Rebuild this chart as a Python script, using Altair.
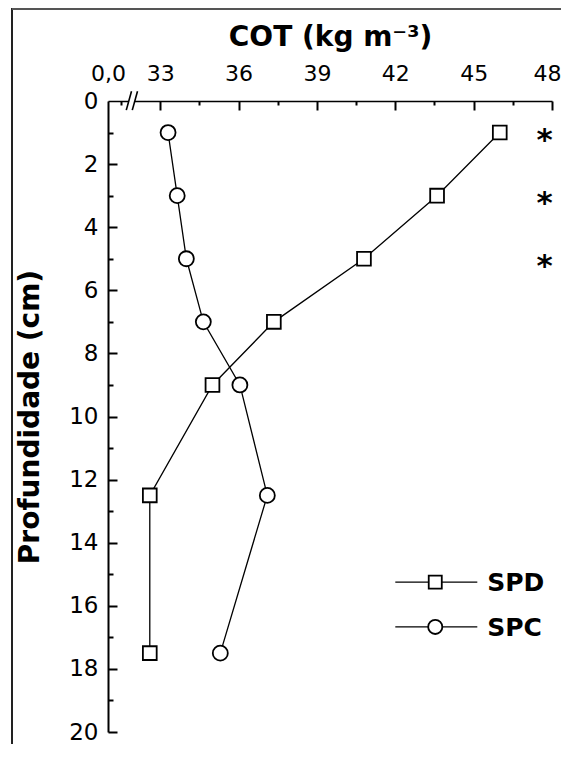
import altair as alt
import pandas as pd

# ---- data ----
depth = [1, 3, 5, 7, 9, 12.5, 17.5]
spd = [46.0, 43.6, 40.8, 37.35, 35.0, 32.6, 32.6]
spc = [33.3, 33.65, 34.0, 34.65, 36.05, 37.1, 35.3]
star_depth = [1, 3, 5]
star_x = 47.72

x_major = [31, 33, 36, 39, 42, 45, 48]
x_ticks = [31.5, 33, 34.5, 36, 37.5, 39, 40.5, 42, 43.5, 45, 46.5, 48]
y_major = [0, 2, 4, 6, 8, 10, 12, 14, 16, 18, 20]
y_ticks = list(range(1, 21))

legend_names = ["SPD", "SPC"]
legend_shapes = ["square", "circle"]
legend_depth = [15.25, 16.67]
legend_line_x = (42.0, 45.14)
legend_mark_x = 43.53
legend_text_x = 45.52

# axis break marks (in data units)
brk_gap = (31.80, 32.03)
brk_slashes = [(31.70, 31.90), (31.93, 32.13)]
brk_y = (0.29, -0.31)

W, H = 444, 631
FONT = "DejaVu Sans"

df = pd.DataFrame({
    "depth": depth * 2,
    "cot": spd + spc,
    "serie": ["SPD"] * len(depth) + ["SPC"] * len(depth),
})
d_spd = df[df["serie"] == "SPD"]
d_spc = df[df["serie"] == "SPC"]

xs = alt.Scale(domain=[31, 48], nice=False, zero=False)
ys = alt.Scale(domain=[0, 20], reverse=True, nice=False, zero=False)

# Labeled axes (no ticks)
x_lab_axis = alt.Axis(
    orient="top", values=x_major, ticks=False, tickSize=0, grid=False,
    labelExpr="datum.value == 31 ? '0,0' : datum.label",
    labelFlush=False, labelOverlap=False,
    labelOffset={"condition": {"test": "datum.value == 48", "value": -5}, "value": 0},
    labelFont=FONT, labelFontSize=22, labelColor="black", labelPadding=16,
    domainColor="black", domainWidth=1.6,
    title="COT (kg m⁻³)", titleFont=FONT, titleFontSize=28, titleFontWeight="bold",
    titleColor="black", titlePadding=11,
)
y_lab_axis = alt.Axis(
    orient="left", values=y_major, ticks=False, tickSize=0, grid=False,
    labelFlush=False, labelOverlap=False,
    labelFont=FONT, labelFontSize=23, labelColor="black", labelPadding=10,
    domainColor="black", domainWidth=2,
    title="Profundidade (cm)", titleFont=FONT, titleFontSize=28, titleFontWeight="bold",
    titleColor="black", titleAngle=270, titleAlign="center", titleBaseline="middle",
    titleX=-78, titleY=H / 2,
)
# Tick-only axes pointing inward
x_tick_axis = alt.Axis(
    orient="bottom", offset=-H, values=x_ticks, labels=False, domain=False, grid=False,
    tickColor="black", tickWidth=2,
    tickSize={"condition": {"test": "datum.value % 3 == 1.5", "value": 4}, "value": 9},
    title=None,
)
y_tick_axis = alt.Axis(
    orient="right", offset=-W, values=y_ticks, labels=False, domain=False, grid=False,
    tickColor="black", tickWidth=2,
    tickSize={"condition": {"test": "datum.value % 2 == 1", "value": 5}, "value": 9},
    title=None,
)

line_spd = alt.Chart(d_spd).mark_line(color="black", strokeWidth=1.3).encode(
    x=alt.X("cot:Q", scale=xs, axis=x_lab_axis),
    y=alt.Y("depth:Q", scale=ys, axis=y_lab_axis),
    order="depth:Q",
)
line_spc = alt.Chart(d_spc).mark_line(color="black", strokeWidth=1.3).encode(
    x=alt.X("cot:Q", scale=xs, axis=x_tick_axis),
    y=alt.Y("depth:Q", scale=ys, axis=y_tick_axis),
    order="depth:Q",
)
pts_spd = alt.Chart(d_spd).mark_point(
    shape="square", size=190, filled=True, fill="white", stroke="black", strokeWidth=1.8, opacity=1
).encode(
    x=alt.X("cot:Q", scale=xs, axis=None),
    y=alt.Y("depth:Q", scale=ys, axis=None),
)
pts_spc = alt.Chart(d_spc).mark_point(
    shape="circle", size=225, filled=True, fill="white", stroke="black", strokeWidth=1.8, opacity=1
).encode(
    x=alt.X("cot:Q", scale=xs, axis=None),
    y=alt.Y("depth:Q", scale=ys, axis=None),
)

stars = alt.Chart(pd.DataFrame({"depth": star_depth, "x": [star_x] * len(star_depth)})).mark_text(
    text="*", font=FONT, fontSize=31, fontWeight="bold", color="black", baseline="middle", dy=8
).encode(
    x=alt.X("x:Q", scale=xs, axis=None),
    y=alt.Y("depth:Q", scale=ys, axis=None),
)

# legend built from its own small table, positioned through the scales
leg = pd.DataFrame({
    "name": legend_names,
    "shp": legend_shapes,
    "depth": legend_depth,
    "x1": [legend_line_x[0]] * 2,
    "x2": [legend_line_x[1]] * 2,
    "xm": [legend_mark_x] * 2,
    "xt": [legend_text_x] * 2,
})
leg_lines = alt.Chart(leg).mark_rule(color="black", strokeWidth=1.3).encode(
    x=alt.X("x1:Q", scale=xs, axis=None), x2="x2:Q",
    y=alt.Y("depth:Q", scale=ys, axis=None),
)
leg_sq = alt.Chart(leg[leg["shp"] == "square"]).mark_point(
    shape="square", size=170, filled=True, fill="white", stroke="black", strokeWidth=1.8, opacity=1
).encode(
    x=alt.X("xm:Q", scale=xs, axis=None),
    y=alt.Y("depth:Q", scale=ys, axis=None),
)
leg_ci = alt.Chart(leg[leg["shp"] == "circle"]).mark_point(
    shape="circle", size=200, filled=True, fill="white", stroke="black", strokeWidth=1.8, opacity=1
).encode(
    x=alt.X("xm:Q", scale=xs, axis=None),
    y=alt.Y("depth:Q", scale=ys, axis=None),
)
leg_txt = alt.Chart(leg).mark_text(
    font=FONT, fontSize=25, fontWeight="bold", color="black", align="left", baseline="middle", dy=1
).encode(
    x=alt.X("xt:Q", scale=xs, axis=None),
    y=alt.Y("depth:Q", scale=ys, axis=None),
    text="name:N",
)

# axis break "//"
gap = alt.Chart(pd.DataFrame({"a": [brk_gap[0]], "b": [brk_gap[1]], "y": [0]})).mark_rule(
    color="white", strokeWidth=4
).encode(
    x=alt.X("a:Q", scale=xs, axis=None), x2="b:Q",
    y=alt.Y("y:Q", scale=ys, axis=None),
)
slashes = alt.Chart(pd.DataFrame({
    "a": [s[0] for s in brk_slashes], "b": [s[1] for s in brk_slashes],
    "ya": [brk_y[0]] * 2, "yb": [brk_y[1]] * 2,
})).mark_rule(color="black", strokeWidth=1.6).encode(
    x=alt.X("a:Q", scale=xs, axis=None), x2="b:Q",
    y=alt.Y("ya:Q", scale=ys, axis=None), y2="yb:Q",
)

# figure frame (decoration)
frame_left = alt.Chart().mark_rule(color="#222", strokeWidth=2).encode(
    x=alt.value(-96), y=alt.value(-93), y2=alt.value(H + 120)
)
frame_top = alt.Chart().mark_rule(color="#555", strokeWidth=2).encode(
    x=alt.value(-96), x2=alt.value(W + 20), y=alt.value(-92)
)

chart = alt.layer(
    frame_left, frame_top,
    line_spd, line_spc, pts_spd, pts_spc, stars,
    leg_lines, leg_sq, leg_ci, leg_txt,
    gap, slashes,
).resolve_axis(x="independent", y="independent").properties(
    width=W, height=H,
    autosize=alt.AutoSizeParams(type="none"),
    padding={"left": 100, "top": 93, "right": 9, "bottom": 12},
    background="white",
).configure_view(stroke=None)

chart.save("out.html", embed_options={"renderer": "svg", "actions": False})
